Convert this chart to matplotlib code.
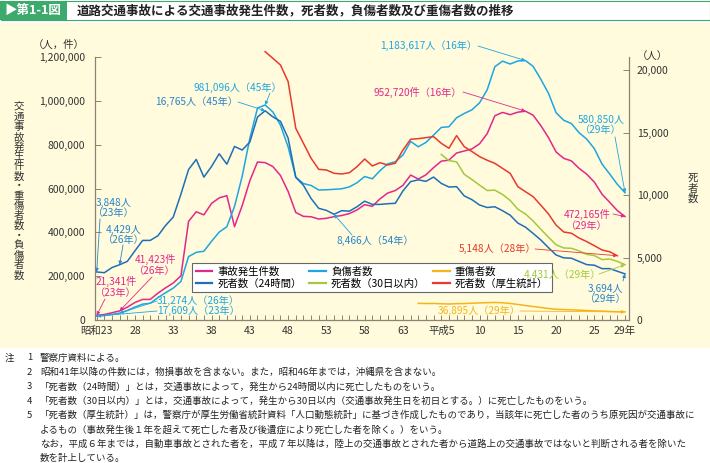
import numpy as np
import matplotlib
matplotlib.use('Agg')
import matplotlib.pyplot as plt
from matplotlib.patches import Rectangle
from matplotlib.lines import Line2D

plt.rcParams['font.family'] = ['Noto Sans CJK JP', 'DejaVu Sans']

# data (昭和23年=1948 .. 平成29年=2017)
years = np.arange(1948, 2018)
accidents = [21341, 25113, 33212, 41423, 58487, 80019, 93869, 93981, 122691, 146833,
             168799, 201292, 449917, 493693, 479825, 531966, 557183, 567286, 425944, 521481,
             635056, 720880, 718080, 700290, 659283, 586713, 490452, 472938, 471041, 460649,
             464037, 471573, 476677, 485578, 502261, 526362, 518642, 552788, 579190, 590723,
             614481, 661363, 643097, 662392, 695346, 724678, 729461, 761794, 771085, 780401,
             803882, 850371, 931950, 947253, 936950, 948281, 952720, 934346, 887267, 832704,
             766394, 737637, 725924, 692084, 665157, 629033, 573842, 536899, 499201, 472165]
injured = [17609, 20242, 25450, 31274, 43321, 59280, 72390, 76501, 102072, 124530,
           145432, 175951, 289156, 308697, 313813, 359089, 401117, 425666, 517775, 655377,
           828071, 967000, 981096, 949689, 889198, 789948, 651420, 622467, 613957, 593211,
           594116, 596282, 598719, 607346, 626192, 654822, 644321, 681346, 712330, 722179,
           752845, 814832, 790295, 810245, 844003, 878633, 881723, 922677, 942203, 958925,
           990675, 1050399, 1155697, 1181039, 1168029, 1181681, 1183617, 1157113, 1098564, 1034652,
           945703, 911215, 896297, 854613, 825392, 781492, 711374, 666023, 618853, 580850]
deaths24 = [3848, 3790, 4202, 4429, 4696, 5544, 6374, 6379, 6751, 7575,
            8248, 10079, 12055, 12865, 11445, 12301, 13318, 12484, 13904, 13618,
            14256, 16257, 16765, 16278, 15918, 14574, 11432, 10792, 9734, 8945,
            8783, 8466, 8760, 8719, 9073, 9520, 9262, 9261, 9317, 9347,
            10344, 11086, 11227, 11109, 11452, 10945, 10653, 10684, 9943, 9642,
            9214, 9012, 9073, 8757, 8396, 7768, 7436, 6937, 6415, 5796,
            5209, 4979, 4948, 4691, 4438, 4388, 4113, 4117, 3904, 3694]
years30 = np.arange(1993, 2018)
deaths30 = [13269, 12768, 12670, 11674, 11254, 10805, 10372, 10403, 10060, 9575,
            8877, 8492, 7931, 7272, 6639, 6023, 5772, 5745, 5535, 5261,
            5165, 4838, 4885, 4698, 4431]
years_k = np.arange(1970, 2017)
deaths_k = [21500, 20970, 20430, 19100, 15360, 14160, 12960, 12070, 12020, 11750,
            11700, 11800, 12280, 12900, 12340, 12600, 12420, 12560, 13620, 14480,
            14530, 14610, 14690, 14160, 13760, 14770, 13890, 13500, 13090, 12800,
            12550, 12150, 11750, 10680, 10280, 9880, 9200, 8500, 7600, 7050,
            6950, 6570, 6280, 5950, 5610, 5470, 5148]
years_s = np.arange(1990, 2018)
serious = [76000, 75000, 75500, 74000, 73000, 74500, 75000, 76500, 78000, 79000,
           80000, 78500, 75500, 71000, 66000, 61500, 57000, 52500, 49000, 47500,
           46500, 45000, 43000, 41500, 40500, 39000, 37500, 36895]

tick_years = [1948, 1953, 1958, 1963, 1968, 1973, 1978, 1983, 1988, 1993, 1998, 2003, 2008, 2013, 2017]
tick_labels = ['昭和23', '28', '33', '38', '43', '48', '53', '58', '63', '平成5', '10', '15', '20', '25', '29年']

c_acc = '#e2288a'
c_inj = '#1ea5e2'
c_ser = '#f6b419'
c_d24 = '#1f6fb8'
c_d30 = '#a5c83c'
c_dk = '#e8392e'
c_txt_d = '#2a84c9'
spine_c = '#8c8374'

W, H = 710, 463
fig = plt.figure(figsize=(7.1, 4.63), dpi=100)


def fx(x):
    return x / W


def fy(y):
    return 1 - y / H


# background and title bar
fig.patches.append(Rectangle((0, fy(348)), 1, fy(23) - fy(348), transform=fig.transFigure,
                             facecolor='#fffbdc', edgecolor='none', zorder=-10))
fig.patches.append(Rectangle((fx(0.5), fy(19.5)), fx(709), fy(1.5) - fy(19.5), transform=fig.transFigure,
                             facecolor='white', edgecolor='#3daa6d', lw=0.8, zorder=-5))
fig.patches.append(Rectangle((0, fy(19.5)), fx(67), fy(1.5) - fy(19.5), transform=fig.transFigure,
                             facecolor='#3daa6d', edgecolor='none', zorder=-4))
fig.text(fx(4), fy(10.5), '▶第1-1図', color='white', fontsize=9, fontweight='bold', va='center')
fig.text(fx(77), fy(10.5), '道路交通事故による交通事故発生件数，死者数，負傷者数及び重傷者数の推移',
         fontsize=9, fontweight='bold', va='center', color='#222222')

ax = fig.add_axes([fx(95), fy(320), (629 - 95) / W, (320 - 57) / H])
ax2 = ax.twinx()
for a in (ax, ax2):
    a.patch.set_visible(False)
    a.spines['top'].set_visible(False)
    for s in ('left', 'right', 'bottom'):
        a.spines[s].set_color(spine_c)
        a.spines[s].set_linewidth(0.9)
ax.spines['right'].set_visible(False)
ax2.spines['left'].set_visible(False)
ax2.spines['bottom'].set_visible(False)

ax.set_xlim(1947.78, 2017.52)
ax.set_ylim(0, 1200000)
ax2.set_ylim(0, 21070)

lw = 1.1
l_acc, = ax.plot(years, accidents, color=c_acc, lw=lw)
l_inj, = ax.plot(years, injured, color=c_inj, lw=lw)
l_ser, = ax.plot(years_s, serious, color=c_ser, lw=lw)
l_dk, = ax2.plot(years_k, deaths_k, color=c_dk, lw=lw, clip_on=False)
l_d30, = ax2.plot(years30, deaths30, color=c_d30, lw=lw)
l_d24, = ax2.plot(years, deaths24, color=c_d24, lw=lw)

ax.set_xticks(tick_years)
ax.set_xticklabels(tick_labels)
ax.set_xticks(years, minor=True)
ax.tick_params(axis='x', which='both', direction='in', length=3.5, width=0.7, color=spine_c,
               labelsize=7.5, pad=4)
ax.set_yticks(np.arange(0, 1200001, 200000))
ax.set_yticklabels(['0'] + ['{:,}'.format(v) for v in range(200000, 1200001, 200000)])
ax.tick_params(axis='y', direction='in', length=4, width=0.7, color=spine_c, labelsize=7.5, pad=7)
ax2.set_yticks(np.arange(0, 20001, 5000))
ax2.set_yticklabels(['0'] + ['{:,}'.format(v) for v in range(5000, 20001, 5000)])
ax2.tick_params(axis='y', direction='in', length=4, width=0.7, color=spine_c, labelsize=7.5, pad=5.5)
for t in ax.get_xticklabels() + ax.get_yticklabels() + ax2.get_yticklabels():
    t.set_color('#333333')

# axis titles
fig.text(fx(59), fy(45), '（人，件）', fontsize=7.5, ha='center', va='center', color='#333333')
fig.text(fx(652), fy(57), '（人）', fontsize=7.5, ha='center', va='center', color='#333333')
left_label = '交通事故発生件数・重傷者数・負傷者数'
for i, ch in enumerate(left_label):
    fig.text(fx(19), fy(107 + i * 9.9), ch, fontsize=7.5, ha='center', va='center', color='#333333')
for i, ch in enumerate('死者数'):
    fig.text(fx(693), fy(179 + i * 10), ch, fontsize=7.5, ha='center', va='center', color='#333333')

# legend
handles = [l_acc, l_d24, l_inj, l_d30, l_ser, l_dk]
labels = ['事故発生件数', '死者数（24時間）', '負傷者数', '死者数（30日以内）', '重傷者数', '死者数（厚生統計）']
proxies = [Line2D([], [], color=h.get_color(), lw=1.6) for h in handles]
leg = ax2.legend(proxies, labels, ncol=3, loc='upper left', bbox_to_anchor=(fx(192), fy(263)),
                 bbox_transform=fig.transFigure, borderaxespad=0, fontsize=7.5, frameon=True,
                 fancybox=False, framealpha=1, facecolor='white', edgecolor='#666666',
                 handlelength=1.6, handletextpad=0.5, columnspacing=0.7, labelspacing=0.15,
                 borderpad=0.35)
leg.get_frame().set_linewidth(0.8)
leg.set_zorder(20)


# annotations
def note(txt, x, y, color, ha='center'):
    fig.text(fx(x), fy(y), txt, color=color, fontsize=7.3, ha=ha, va='center', linespacing=1.05)


def leader(a, x, y, sx, sy, color):
    a.annotate('', xy=(x, y), xycoords='data', xytext=(sx, H - sy), textcoords='figure pixels',
               arrowprops=dict(arrowstyle='-|>', color=color, lw=0.6, shrinkA=0, shrinkB=0,
                               mutation_scale=5), annotation_clip=False)


note('1,183,617人（16年）', 429, 46, c_inj)
leader(ax, 2004, 1183617, 478, 46, c_inj)
note('952,720件（16年）', 418, 92, c_acc)
leader(ax, 2004, 952720, 463, 92, c_acc)
note('981,096人（45年）', 238, 88, c_inj)
leader(ax, 1970, 981096, 270, 93, c_inj)
note('16,765人（45年）', 197, 102, c_txt_d)
leader(ax2, 1970, 16765, 238, 102, c_inj)
note('8,466人（54年）', 375, 241, c_txt_d)
leader(ax2, 1979, 8466, 352, 235, c_inj)
note('580,850人\n（29年）', 601, 125, c_inj)
leader(ax, 2017, 580850, 615, 137, c_inj)
note('472,165件\n（29年）', 587, 220, c_acc)
leader(ax, 2017, 472165, 613, 214, c_acc)
note('5,148人（28年）', 497, 249, c_dk)
leader(ax2, 2016, 5148, 535, 249, c_dk)
note('4,431人（29年）', 562, 275, c_d30)
leader(ax2, 2017, 4431, 599, 274, c_d30)
note('3,694人\n（29年）', 606, 294, c_txt_d)
leader(ax2, 2017, 3694, 623, 281, c_txt_d)
note('36,895人（29年）', 479, 311, c_ser)
leader(ax, 2017, 36895, 520, 311, c_ser)
note('3,848人\n（23年）', 114, 208, c_txt_d)
leader(ax2, 1948, 3848, 100, 219, c_txt_d)
note('4,429人\n（26年）', 124, 235, c_txt_d)
leader(ax2, 1951, 4429, 123, 245, c_txt_d)
note('41,423件\n（26年）', 155, 265, c_acc)
leader(ax, 1951, 41423, 152, 277, c_acc)
note('21,341件\n（23年）', 116, 287, c_acc)
leader(ax, 1948, 21341, 105, 299, c_acc)
note('31,274人（26年）', 157, 301, c_inj, ha='left')
leader(ax, 1951, 31274, 157, 301, c_inj)
note('17,609人（23年）', 157, 311, c_inj, ha='left')
leader(ax, 1948, 17609, 157, 311, c_inj)

# notes
notes = [
    '警察庁資料による。',
    '昭和41年以降の件数には，物損事故を含まない。また，昭和46年までは，沖縄県を含まない。',
    '「死者数（24時間）」とは，交通事故によって，発生から24時間以内に死亡したものをいう。',
    '「死者数（30日以内）」とは，交通事故によって，発生から30日以内（交通事故発生日を初日とする。）に死亡したものをいう。',
    '「死者数（厚生統計）」は，警察庁が厚生労働省統計資料「人口動態統計」に基づき作成したものであり，当該年に死亡した者のうち原死因が交通事故に',
    'よるもの（事故発生後１年を超えて死亡した者及び後遺症により死亡した者を除く。）をいう。',
    'なお，平成６年までは，自動車事故とされた者を，平成７年以降は，陸上の交通事故とされた者から道路上の交通事故ではないと判断される者を除いた',
    '数を計上している。',
]
nums = ['1', '2', '3', '4', '5', '', '', '']
fig.text(fx(5), fy(358), '注', fontsize=6.8, va='center', color='#222222')
for i, (n, t) in enumerate(zip(nums, notes)):
    y = 358 + i * 14.4
    if n:
        fig.text(fx(27), fy(y), n, fontsize=6.8, va='center', color='#222222')
    fig.text(fx(40), fy(y), t, fontsize=6.8, va='center', color='#222222')

fig.savefig('out.png', dpi=100)
